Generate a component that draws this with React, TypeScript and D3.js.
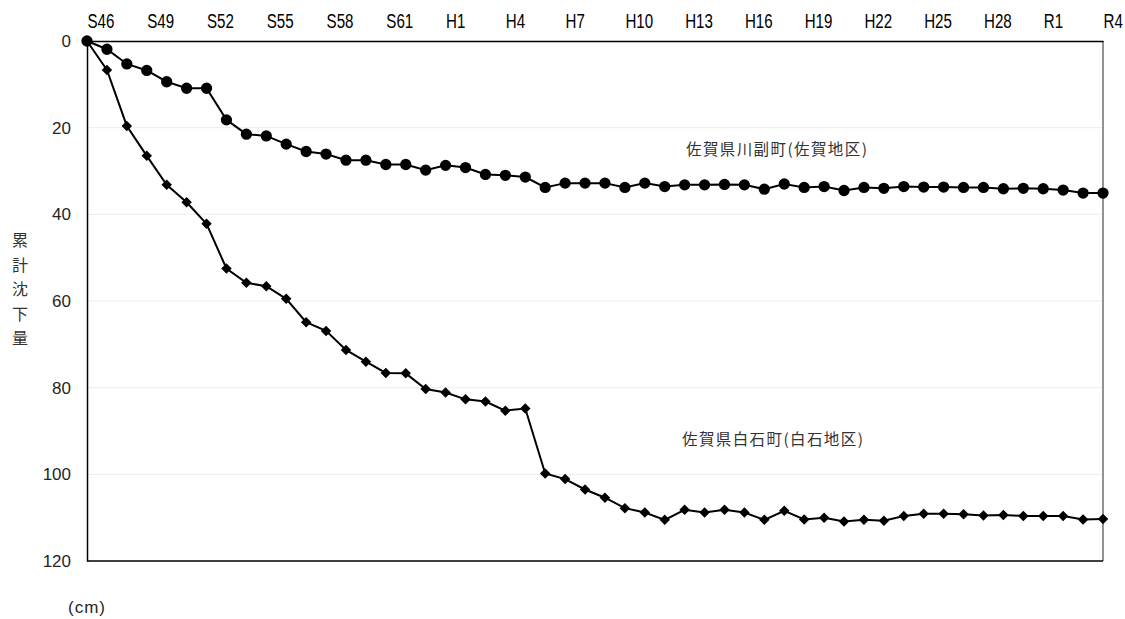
import { axisLeft, axisTop, line, scaleLinear, scalePoint, select, symbol, symbolCircle, symbolSquare } from 'd3';
import React, { useEffect, useRef } from 'react';

// fiscal years S46 (1971) .. R4 (2022)
const years = [
  'S46', 'S47', 'S48', 'S49', 'S50', 'S51', 'S52', 'S53', 'S54', 'S55', 'S56', 'S57', 'S58',
  'S59', 'S60', 'S61', 'S62', 'S63', 'H1', 'H2', 'H3', 'H4', 'H5', 'H6', 'H7', 'H8', 'H9',
  'H10', 'H11', 'H12', 'H13', 'H14', 'H15', 'H16', 'H17', 'H18', 'H19', 'H20', 'H21', 'H22',
  'H23', 'H24', 'H25', 'H26', 'H27', 'H28', 'H29', 'H30', 'R1', 'R2', 'R3', 'R4',
];

const yearTicks = [
  'S46', 'S49', 'S52', 'S55', 'S58', 'S61', 'H1', 'H4', 'H7', 'H10', 'H13', 'H16', 'H19',
  'H22', 'H25', 'H28', 'R1', 'R4',
];

const depthTicks = [0, 20, 40, 60, 80, 100, 120];

// 佐賀県川副町(佐賀地区) cumulative subsidence, cm
const kawasoe = [
  0, 1.9, 5.3, 6.8, 9.4, 10.9, 10.9, 18.2, 21.5, 21.9, 23.8, 25.5, 26.1, 27.5, 27.5, 28.5,
  28.5, 29.8, 28.7, 29.2, 30.8, 31.0, 31.4, 33.8, 32.8, 32.8, 32.8, 33.8, 32.8, 33.6, 33.2,
  33.2, 33.1, 33.2, 34.2, 33.0, 33.8, 33.6, 34.5, 33.8, 34.0, 33.6, 33.7, 33.7, 33.8, 33.8,
  34.1, 34.0, 34.1, 34.4, 35.1, 35.1,
];

// 佐賀県白石町(白石地区) cumulative subsidence, cm
const shiroishi = [
  0, 6.7, 19.6, 26.5, 33.2, 37.2, 42.2, 52.5, 55.8, 56.6, 59.5, 64.9, 66.9, 71.3, 74.0, 76.6,
  76.7, 80.3, 81.1, 82.7, 83.2, 85.3, 84.8, 99.8, 101.1, 103.5, 105.4, 107.8, 108.8, 110.5,
  108.2, 108.8, 108.2, 108.8, 110.5, 108.4, 110.4, 110.0, 110.9, 110.5, 110.7, 109.6, 109.1,
  109.1, 109.2, 109.5, 109.4, 109.6, 109.6, 109.6, 110.4, 110.3,
];

const W = 1125;
const H = 619;
const left = 87;
const right = 1103;
const top = 41;
const bottom = 561;

function renderChart(el: SVGSVGElement) {
  const svg = select(el);
  svg.selectAll('*').remove();

  const x = scalePoint<string>().domain(years).range([left, right]);
  const y = scaleLinear().domain([0, 120]).range([top, bottom]);

  // grid
  svg
    .append('g')
    .selectAll('line')
    .data(depthTicks.slice(1, -1))
    .join('line')
    .attr('x1', left)
    .attr('x2', right)
    .attr('y1', d => y(d))
    .attr('y2', d => y(d))
    .attr('stroke', '#ececec')
    .attr('stroke-width', 1);

  // frame
  svg
    .append('line')
    .attr('x1', right)
    .attr('x2', right)
    .attr('y1', top)
    .attr('y2', bottom)
    .attr('stroke', '#595959')
    .attr('stroke-width', 1.3);
  svg
    .append('line')
    .attr('x1', left)
    .attr('x2', right)
    .attr('y1', bottom)
    .attr('y2', bottom)
    .attr('stroke', '#000')
    .attr('stroke-width', 1.3);

  // left axis
  const ga = svg
    .append('g')
    .attr('transform', `translate(${left},0)`)
    .call(axisLeft(y).tickValues(depthTicks).tickSize(0).tickPadding(16));
  ga.select('.domain').attr('stroke', '#000').attr('stroke-width', 1.5);
  ga.selectAll('text')
    .attr('font-family', '"Liberation Sans", Arial, sans-serif')
    .attr('font-size', 17)
    .attr('fill', '#262626');

  // top axis, narrow lettering
  const gt = svg
    .append('g')
    .attr('transform', `translate(0,${top})`)
    .call(axisTop(x).tickValues(yearTicks).tickSize(0).tickPadding(13));
  gt.select('.domain').attr('stroke', '#000').attr('stroke-width', 1.5);
  gt.selectAll('text')
    .attr('text-anchor', 'start')
    .attr('transform', 'scale(0.72,1)')
    .attr('font-family', '"Liberation Sans", Arial, sans-serif')
    .attr('font-size', 21)
    .attr('fill', '#000');

  const series = [
    { values: kawasoe, shape: symbolCircle, size: 100, rotate: 0 },
    { values: shiroishi, shape: symbolSquare, size: 55, rotate: 45 },
  ];

  const path = line<number>()
    .x((_, i) => x(years[i]) ?? 0)
    .y(d => y(d));

  series.forEach(s => {
    svg
      .append('path')
      .datum(s.values)
      .attr('d', path)
      .attr('fill', 'none')
      .attr('stroke', '#000')
      .attr('stroke-width', 2);
    svg
      .append('g')
      .selectAll('path')
      .data(s.values)
      .join('path')
      .attr('transform', (d, i) => `translate(${x(years[i])},${y(d)}) rotate(${s.rotate})`)
      .attr('d', symbol().type(s.shape).size(s.size)())
      .attr('fill', '#000');
  });

  const cjk = '"Noto Sans CJK JP", sans-serif';

  svg
    .append('text')
    .attr('x', 686)
    .attr('y', 155)
    .attr('font-family', cjk)
    .attr('font-size', 15.5)
    .attr('letter-spacing', 1.4)
    .attr('fill', '#333')
    .text('佐賀県川副町(佐賀地区)');

  svg
    .append('text')
    .attr('x', 682)
    .attr('y', 445)
    .attr('font-family', cjk)
    .attr('font-size', 15.5)
    .attr('letter-spacing', 1.4)
    .attr('fill', '#333')
    .text('佐賀県白石町(白石地区)');

  // vertical axis title
  svg
    .append('g')
    .selectAll('text')
    .data(Array.from('累計沈下量'))
    .join('text')
    .attr('x', 20)
    .attr('y', (_, i) => 246 + i * 24.5)
    .attr('text-anchor', 'middle')
    .attr('font-family', cjk)
    .attr('font-size', 16)
    .attr('fill', '#333')
    .text(d => d);

  svg
    .append('text')
    .attr('x', 68)
    .attr('y', 613)
    .attr('font-family', '"Liberation Sans", Arial, sans-serif')
    .attr('font-size', 17)
    .attr('letter-spacing', 1)
    .attr('fill', '#262626')
    .text('(cm)');
}

export default function App() {
  const svgRef = useRef<SVGSVGElement>(null);

  useEffect(() => {
    if (svgRef.current) renderChart(svgRef.current);
  }, []);

  return (
    <svg
      ref={svgRef}
      width={W}
      height={H}
      style={{ position: 'absolute', left: 0, top: 0, background: '#fff' }}
    />
  );
}
